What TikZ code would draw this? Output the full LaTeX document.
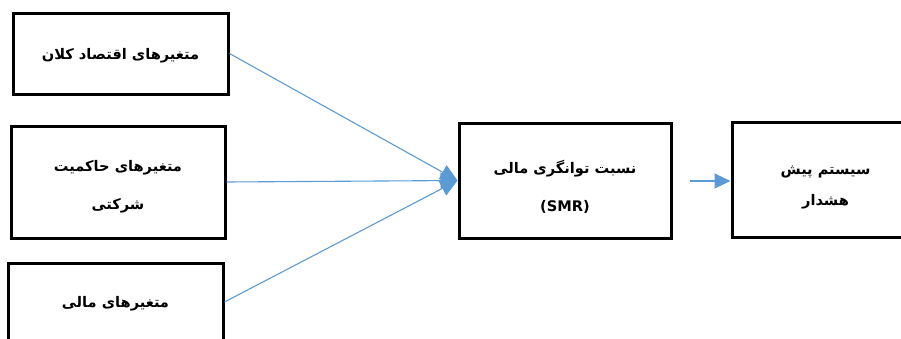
\documentclass[tikz,border=0pt]{standalone}
\usepackage{fontspec}
\usetikzlibrary{arrows.meta}
\TeXXeTstate=1
\newfontfamily\fafont[Script=Arabic]{DejaVu Sans}
\definecolor{linkblue}{HTML}{5B9BD5}
\begin{document}
\begin{tikzpicture}[x=1pt,y=-1pt,
  box/.style={draw=black, line width=3pt, fill=white, inner sep=0pt},
  boxtext/.style={inner sep=0pt, align=center,
    font=\fafont\bfseries\fontsize{14.6}{38}\selectfont},
  link/.style={draw=linkblue, line width=1.1pt,
    -{Triangle[length=17pt,width=16pt]}}]
\useasboundingbox (0,0) rectangle (901,338);

% input variable groups
\node[box, minimum width=215pt, minimum height=81pt] (macro) at (120.5,53.5) {};
\node[boxtext] (macro-t) at ([yshift=-2pt]macro.center)
  {\beginR متغیرهای اقتصاد کلان\endR};
\node[box, minimum width=214pt, minimum height=112pt] (gov) at (118,182) {};
\node[boxtext] (gov-t) at ([yshift=-5pt]gov.center)
  {\beginR متغیرهای حاکمیت\endR\\\beginR شرکتی\endR};
\node[box, minimum width=215pt, minimum height=78pt] (fin) at (115.5,302) {};
\node[boxtext] (fin-t) at ([yshift=-2pt]fin.center)
  {\beginR متغیرهای مالی\endR};

% solvency ratio and warning system
\node[box, minimum width=212pt, minimum height=115pt] (smr) at (565,180.5) {};
\node[boxtext] (smr-t) at ([yshift=-6pt]smr.center)
  {\beginR نسبت توانگری مالی\endR\\(SMR)};
\node[box, minimum width=183pt, minimum height=115pt] (warn) at (823.5,179.5) {};
\node[boxtext, font=\fafont\bfseries\fontsize{14.6}{31}\selectfont] (warn-t)
  at ([xshift=2pt,yshift=-8pt]warn.center)
  {\beginR سیستم پیش\endR\\\beginR هشدار\endR};

% connectors
\draw[link] (macro.east) -- (smr.west);
\draw[link] (gov.east) -- (smr.west);
\draw[link] (fin.east) -- (smr.west);
\coordinate (wstart) at (690,181);
\draw[link, -{Triangle[length=16pt,width=15pt]}] (wstart) -- (wstart -| warn.west);
\end{tikzpicture}
\end{document}
